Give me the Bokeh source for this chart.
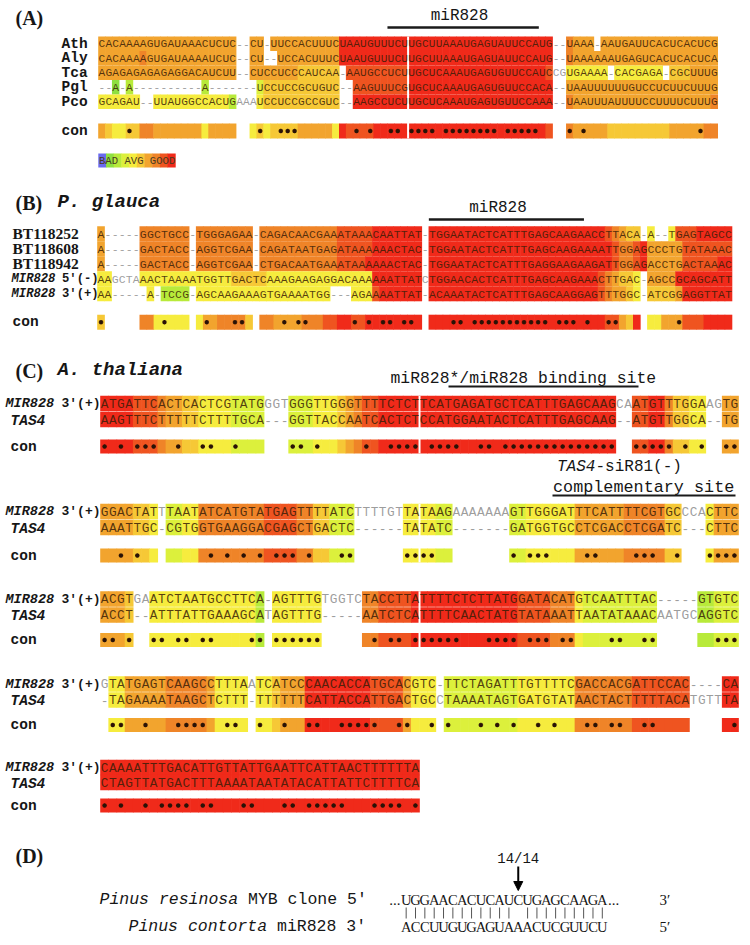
from bokeh.plotting import figure
from bokeh.models import Range1d, Arrow, NormalHead
from bokeh.core.properties import value
from bokeh.embed import file_html
from bokeh.resources import INLINE

# ---------------- data ----------------
# consistency score colours (T-Coffee style 0 = bad ... 9 = good)
PALETTE = {"0": "#6a6aee", "1": "#8ee040", "2": "#b8ea3a", "3": "#dcf03c", "4": "#f6ec3e",
           "5": "#f6c836", "6": "#f2a42e", "7": "#ef8428", "8": "#ef5420", "9": "#f02a1a"}

# (A)
A_LABELS = ["Ath", "Aly", "Tca", "Pgl", "Pco"]
A_SEQS = [
    "CACAAAAGUGAUAAACUCUC--CU-UUCCACUUUCUAAUGUUUCUUGCUUAAAUGAGUAUUCCAUG--UAAA-AAUGAUUCACUCACUCG",
    "CACAAAAGUGAUAAAAUCUC--CU--UCCACUUUCUAAUGUUUCUUGCUUAAAUGAGUAUUCCAUG--UAAAAAAUGAGUCACUCACUCA",
    "AGAGAGAGAGAGGACAUCUU--CUCCUCCCAUCAA-AAUGCCUCUUGCUCAAAUGAGUGUUCCAUCCGUGAAAA-CACGAGA-CGCUUUG",
    "--A-A----------A-------UCCUCCGCUGUC--AAGUUUCGUGCUCAAAUGAGUGUUCCACA--UAAUUUUUUGUCCUCUUCUUUG",
    "GCAGAU--UUAUGGCCACUGAAAUCCUCCGCCGUC--AAGCCUCUUGCUCAAAUGAGUGUUCCAAA--UAAUUUAUUUUCCUUUUCUUUG",
]
A_LEVELS = [
    "66666666666666666666" "--" "66" "-" "6666666666" "9999999999" "999999999999999999999" "--" "7666" "-" "66666666666666666",
    "66666676666666666666" "--" "66" "--" "666666666" "9999999999" "999999999999999999999" "--" "7666666666666666666666",
    "66666666666666666666" "--" "6666666555555" "-" "888888888" "999999999999999999998" ".." "444444" "-" "4444444" "-" "5556666",
    "--1-2" "----------" "2" "-------" "355555555555" "--" "88888888" "999999999999999999999" "--" "6666666666666666666666",
    "444444" "--" "444444444442" "..." "455555555555" "--" "99999999" "999999999999999999999" "--" "7666666666666666666667",
]
A_CON = "65445577666666646666" ".." "4545555666664" "9888899999" "999999999999999999998" ".." "7666665555555556666677"

# (B)
B_LABELS = ["BT118252", "BT118608", "BT118942", "MIR828 5′(-)", "MIR828 3′(+)"]
B_SEQS = [
    "A-----GGCTGCC-TGGGAGAA-CAGACAACGAAATAAACAATTAT-TGGAATACTCATTTGAGCAAGAACCTTACA-A--TGAGTAGCC",
    "A-----GACTACC-AGGTCGAA-CAGATAATGAGATAAAAAACTAC-TGGAATACTCATTTGAGCAAGAAAATTGGAGCCCTGTATAAAC",
    "A-----GACTACC-AGGTCGAA-CTGACAATGAAATAAAAAACTAC-TGGAATACTCATTTGAGGAAGAAGATTGGAGACCTGACTAAAC",
    "AAGCTAAACTAAAATGGTTGACTCAAAGAAGAGGACAAAAAATTATCTGGAACACTCATTTGAGCAAGAAACTTGAC-AGCCGCAGCATT",
    "AA-----A-TCCG-AGCAAGAAAGTGAAAATGG---AGAAAATTAT-ACAAATACTCATTTGAGCAAGGAGTTTGGC-ATCGGAGGTTAT",
]
B_LEVELS = [
    "6" "-----" "7777777" "-" "77777777" "-" "7777777777788888" "9999999" "-" "9999999999999999999999999" "87655" "-" "4" "--" "488899999",
    "6" "-----" "7777777" "-" "77777777" "-" "7777777777788888" "9999999" "-" "99999999999999999999999999" "87789" "666668888888",
    "6" "-----" "7777777" "-" "77777777" "-" "7777777777788889" "9999999" "-" "99999999999999999999999999" "87789" "666668888899",
    "44" "...." "444444444444455555444444444444444" "9999999" "." "999999999999999999999999" "876554" "-" "666699999999",
    "44" "-----" "4" "-" "2222" "-" "4444444444444444444" "---" "444" "8999999" "-" "999999999999999999999999" "876654" "-" "555569999999",
]
B_CON = ("5" "....." "77" "44444" "." "4" "66" "77775" "." "776666777" "88" "99" "88" "99999999" "."
         "9999999999999999999999999" "88" "65" "9" "." "44" "666" "888" "9999")

# (C)  MIR828 3'(+) vs TAS4, five blocks
C_TOP = ["ATGATTCACTCACTCGTATGGGTGGGTTGGGTTTTCTCTTCATGAGATGCTCATTTGAGCAAGCAATGTTTGGAAGTG",
         "GGACTATTTAATATCATGTATGAGTTTTATCTTTTGTTATAAGAAAAAAAGTTGGGATTTCATTTTCGTGCCCACTTC",
         "ACGTGAATCTAATGCCTTCA-AGTTTGTGGTCTACCTTATTTTCTCTTATGGATACATGTCAATTTAC-----GTGTC",
         "GTATGAGTCAAGCCTTTAATCATCCCAACACCATGCACGTC-TTCTAGATTTGTTTTCGACCACGATTCCAC----CA",
         "CAAAATTTGACATTGTTATTGAATTCATTAACTTTTTTA"]
C_BOT = ["AAGTTTCTTTTTCTTTTGCA---GGTTACCAATCACTCTCCATGGAATACTCATTTGAGCAAG--ATGTTGGCA--TG",
         "AAATTGC-CGTGGTGAAGGACGAGCTGACTC------TATATC-------GATGGTGCCTCGACCTCGATC---CTTC",
         "ACCT--ATTTATTGAAAGCATAGTTTG-----AATCTCATTTTCAACTATGTATAAATTAATATAAACAATGCAGGTC",
         "-TAGAAAATAAGCTCTTT-TTTTTTCATTACCATTGACTGCCTAAAATAGTGATGTATAACTACTTTTTACATGTTTA",
         "CTAGTTATGACTTTAAAATAATATACATTATTCTTTTCA"]
C_CON = [
    "9999" "888" "7" "66" "55" "4444" "3333" "..." "333" "444" "5" "67" "88" "99999" "999999999999999999999999" ".." "88" "99" "7" "55" "44" ".." "66",
    "6666" "55" "4" "." "33" "44" "77777777" "8888" "77" "55" "333" "......" "44" "44" "33" "......." "33" "444444" "666666" "77777" "55" "..." "4" "666",
    "666" "5" ".." "444444444444" "4" "2" "." "444444" "....." "77" "88" "889" "999999999999" "8888" "777" "4" "333333333" "....." "22" "333",
    "." "44" "66666" "77777" "6" "4444" "." "44" "5" "666" "99999999" "8888" "6" "444" "." "333333333" "4444444" "7777777" "8888888" "...." "99",
    "999999999999999999999999999999999999999",
]

# (D)
D_TARGET = "UGGAACACUCAUCUGAGCAAGA"
D_MIRNA = "ACCUUGUGAGUAAACUCGUUCU"
D_CUT_INDEX = 12
D_CUT_LABEL = "14/14"

# ---------------- drawing ----------------
INK = "#3a1e08"
GRAY = "#8c8c8c"
MONO = "Liberation Mono"
SERIF = "Liberation Serif"

p = figure(width=742, height=937, output_backend="svg", toolbar_location=None,
           x_range=Range1d(0, 742), y_range=Range1d(937, 0), min_border=0)
p.axis.visible = False
p.grid.visible = False
p.outline_line_color = None
p.background_fill_color = "white"


def add_text(x, y, s, size, font=MONO, style="bold", align="left", color="#161616", baseline="middle"):
    p.text(x=[x], y=[y], text=[s], text_font=value(font), text_font_size=f"{size}px",
           text_font_style=style, text_align=align, text_baseline=baseline, text_color=color)


def draw_alignment(x0, cw, row_y, cell_h, seqs, levels, font_px, con_y, con_h, con_lv, seps=()):
    qL, qR, qT, qB, qF = [], [], [], [], []
    tx, ty, tt, tc = [], [], [], []
    for s, lv, y in zip(seqs, levels, row_y):
        for c, ch in enumerate(s):
            lev = lv[c] if c < len(lv) else "."
            xl = x0 + c * cw
            on = ch != "-" and lev in PALETTE
            if on:
                qL.append(xl - 0.3); qR.append(xl + cw + 0.3)
                qT.append(y - cell_h / 2); qB.append(y + cell_h / 2); qF.append(PALETTE[lev])
            tx.append(xl + cw / 2); ty.append(y + 0.5); tt.append(ch); tc.append(INK if on else GRAY)
    sx = []
    n = min(len(s) for s in seqs)
    for c, lev in enumerate(con_lv):
        if lev not in PALETTE:
            continue
        xl = x0 + c * cw
        qL.append(xl - 0.3); qR.append(xl + cw + 0.3)
        qT.append(con_y - con_h / 2); qB.append(con_y + con_h / 2); qF.append(PALETTE[lev])
        if c < n:
            col = {s[c] for s in seqs}
            if len(col) == 1 and "-" not in col:
                sx.append(xl + cw / 2)
    p.quad(left=qL, right=qR, top=qT, bottom=qB, fill_color=qF, line_color=None)
    for sc in seps:
        xs = x0 + sc * cw
        p.segment(x0=[xs], x1=[xs], y0=[row_y[0] - cell_h / 2], y1=[con_y + con_h / 2],
                  line_color="white", line_width=2)
    p.text(x=tx, y=ty, text=tt, text_color=tc, text_alpha=0.85, text_font=value(MONO),
           text_font_size=f"{font_px}px", text_align="center", text_baseline="middle")
    p.scatter(x=sx, y=[con_y] * len(sx), marker="asterisk", size=4.5, line_color="#2a1206", line_width=1.3)


def overline(xa, xb, y, w=2.5):
    p.segment(x0=[xa], x1=[xb], y0=[y], y1=[y], line_color="#1a1a1a", line_width=w)


# ---- (A)
AX0, ACW = 98, 6.88
A_Y = [43.3, 57.8, 72.3, 86.8, 101.3]
add_text(15, 17, "(A)", 20, font=SERIF)
add_text(459, 15, "miR828", 16, align="center", style="normal")
overline(AX0 + 42 * ACW, AX0 + 64 * ACW, 27)
for lab, y in zip(A_LABELS + ["con"], A_Y + [130.5]):
    add_text(61, y, lab, 14.5)
draw_alignment(AX0, ACW, A_Y, 14.5, A_SEQS, A_LEVELS, 11.2, 130.5, 15, A_CON, seps=[45])
# legend
for i, k in enumerate("0123456789"):
    p.quad(left=[98 + i * 7.7 - 0.2], right=[98 + (i + 1) * 7.7 + 0.2], top=[153], bottom=[167],
           fill_color=PALETTE[k], line_color=None)
add_text(98.5, 160.5, "BAD AVG GOOD", 10.6, style="normal", color="#4a3a20")

# ---- (B)
BX0, BCW = 97, 7.05
B_Y = [233.3, 248.3, 263.3, 278.3, 293.3]
add_text(15, 202, "(B)", 20, font=SERIF)
add_text(57, 201, "P. glauca", 19, style="bold italic")
add_text(497.5, 207, "miR828", 16, align="center", style="normal")
overline(BX0 + 47 * BCW, BX0 + 69 * BCW, 219)
for lab, y in zip(B_LABELS, B_Y):
    if lab.startswith("MIR828"):
        a, b = lab.split(" ")
        add_text(11, y, a, 12.2, style="bold italic")
        add_text(61.5, y, b, 12.2)
    else:
        add_text(12, y, lab, 15.5, font=SERIF)
add_text(12, 321.7, "con", 14.5)
draw_alignment(BX0, BCW, B_Y, 15, B_SEQS, B_LEVELS, 11.5, 321.7, 15, B_CON)

# ---- (C)
CX0, CCW = 100, 8.18
C_MY = [403, 511, 598.5, 683.5, 767]
C_TY = [419, 527, 614.5, 699.5, 782]
C_CY = [446, 555, 639.5, 724.5, 805]
C_SEPS = [[39], [39], [39], [], []]
add_text(15, 370, "(C)", 20, font=SERIF)
add_text(57, 369, "A. thaliana", 19, style="bold italic")
add_text(390, 377.5, "miR828*/miR828 binding site", 16.4, style="normal")
overline(448, 638, 386, 2)
add_text(556.5, 466.7, "TAS4", 16, style="italic")
add_text(595, 466.7, "-siR81(-)", 16, style="normal")
add_text(552.5, 486.7, "complementary site", 16.8, style="normal")
overline(552, 735, 495, 2)
for k in range(5):
    add_text(5, C_MY[k], "MIR828", 13.5, style="bold italic")
    add_text(61, C_MY[k], "3′(+)", 13)
    add_text(10, C_TY[k] + 1, "TAS4", 14.5, style="bold italic")
    add_text(10, C_CY[k], "con", 14.5)
    lv = C_CON[k]
    draw_alignment(CX0, CCW, [C_MY[k], C_TY[k]], 15.5, [C_TOP[k], C_BOT[k]], [lv, lv], 12.8,
                   C_CY[k], 14, lv, seps=C_SEPS[k])

# ---- (D)
add_text(15, 855, "(D)", 20, font=SERIF)
DX0, DCW = 401, 9.34
cut_x = DX0 + D_CUT_INDEX * DCW + DCW / 2
add_text(cut_x, 858, D_CUT_LABEL, 14, style="normal", align="center")
p.add_layout(Arrow(end=NormalHead(size=9, fill_color="black", line_color="black"),
                   x_start=cut_x, y_start=866, x_end=cut_x, y_end=890, line_width=2, line_color="black"))
ROW1, ROWB, ROW2 = 899, 912.5, 926
add_text(99, ROW1, "Pinus resinosa", 16.5, style="italic")
add_text(247.5, ROW1, "MYB clone 5′", 16.5, style="normal")
add_text(128, ROW2, "Pinus contorta", 16.5, style="italic")
add_text(276.5, ROW2, "miR828 3′", 16.5, style="normal")
add_text(DX0 - 1, ROW1, "...", 15, font=SERIF, style="normal", align="right")
add_text(DX0 + len(D_TARGET) * DCW + 1, ROW1, "...", 15, font=SERIF, style="normal")
add_text(659, ROW1, "3′", 15, font=SERIF, style="normal")
add_text(659, ROW2, "5′", 15, font=SERIF, style="normal")
pairs = {("A", "U"), ("U", "A"), ("G", "C"), ("C", "G")}
xs = [DX0 + i * DCW + DCW / 2 for i in range(len(D_TARGET))]
p.text(x=xs, y=[ROW1] * len(xs), text=list(D_TARGET), text_font=value(SERIF), text_font_size="14.5px",
       text_align="center", text_baseline="middle", text_color="#161616")
p.text(x=xs, y=[ROW2] * len(xs), text=list(D_MIRNA), text_font=value(SERIF), text_font_size="14.5px",
       text_align="center", text_baseline="middle", text_color="#161616")
bx = [x for x, a, b in zip(xs, D_TARGET, D_MIRNA) if (a, b) in pairs]
p.segment(x0=bx, x1=bx, y0=[ROWB - 5.5] * len(bx), y1=[ROWB + 5.5] * len(bx), line_color="#555555", line_width=1)

open("out.html", "w").write(file_html(p, INLINE))
